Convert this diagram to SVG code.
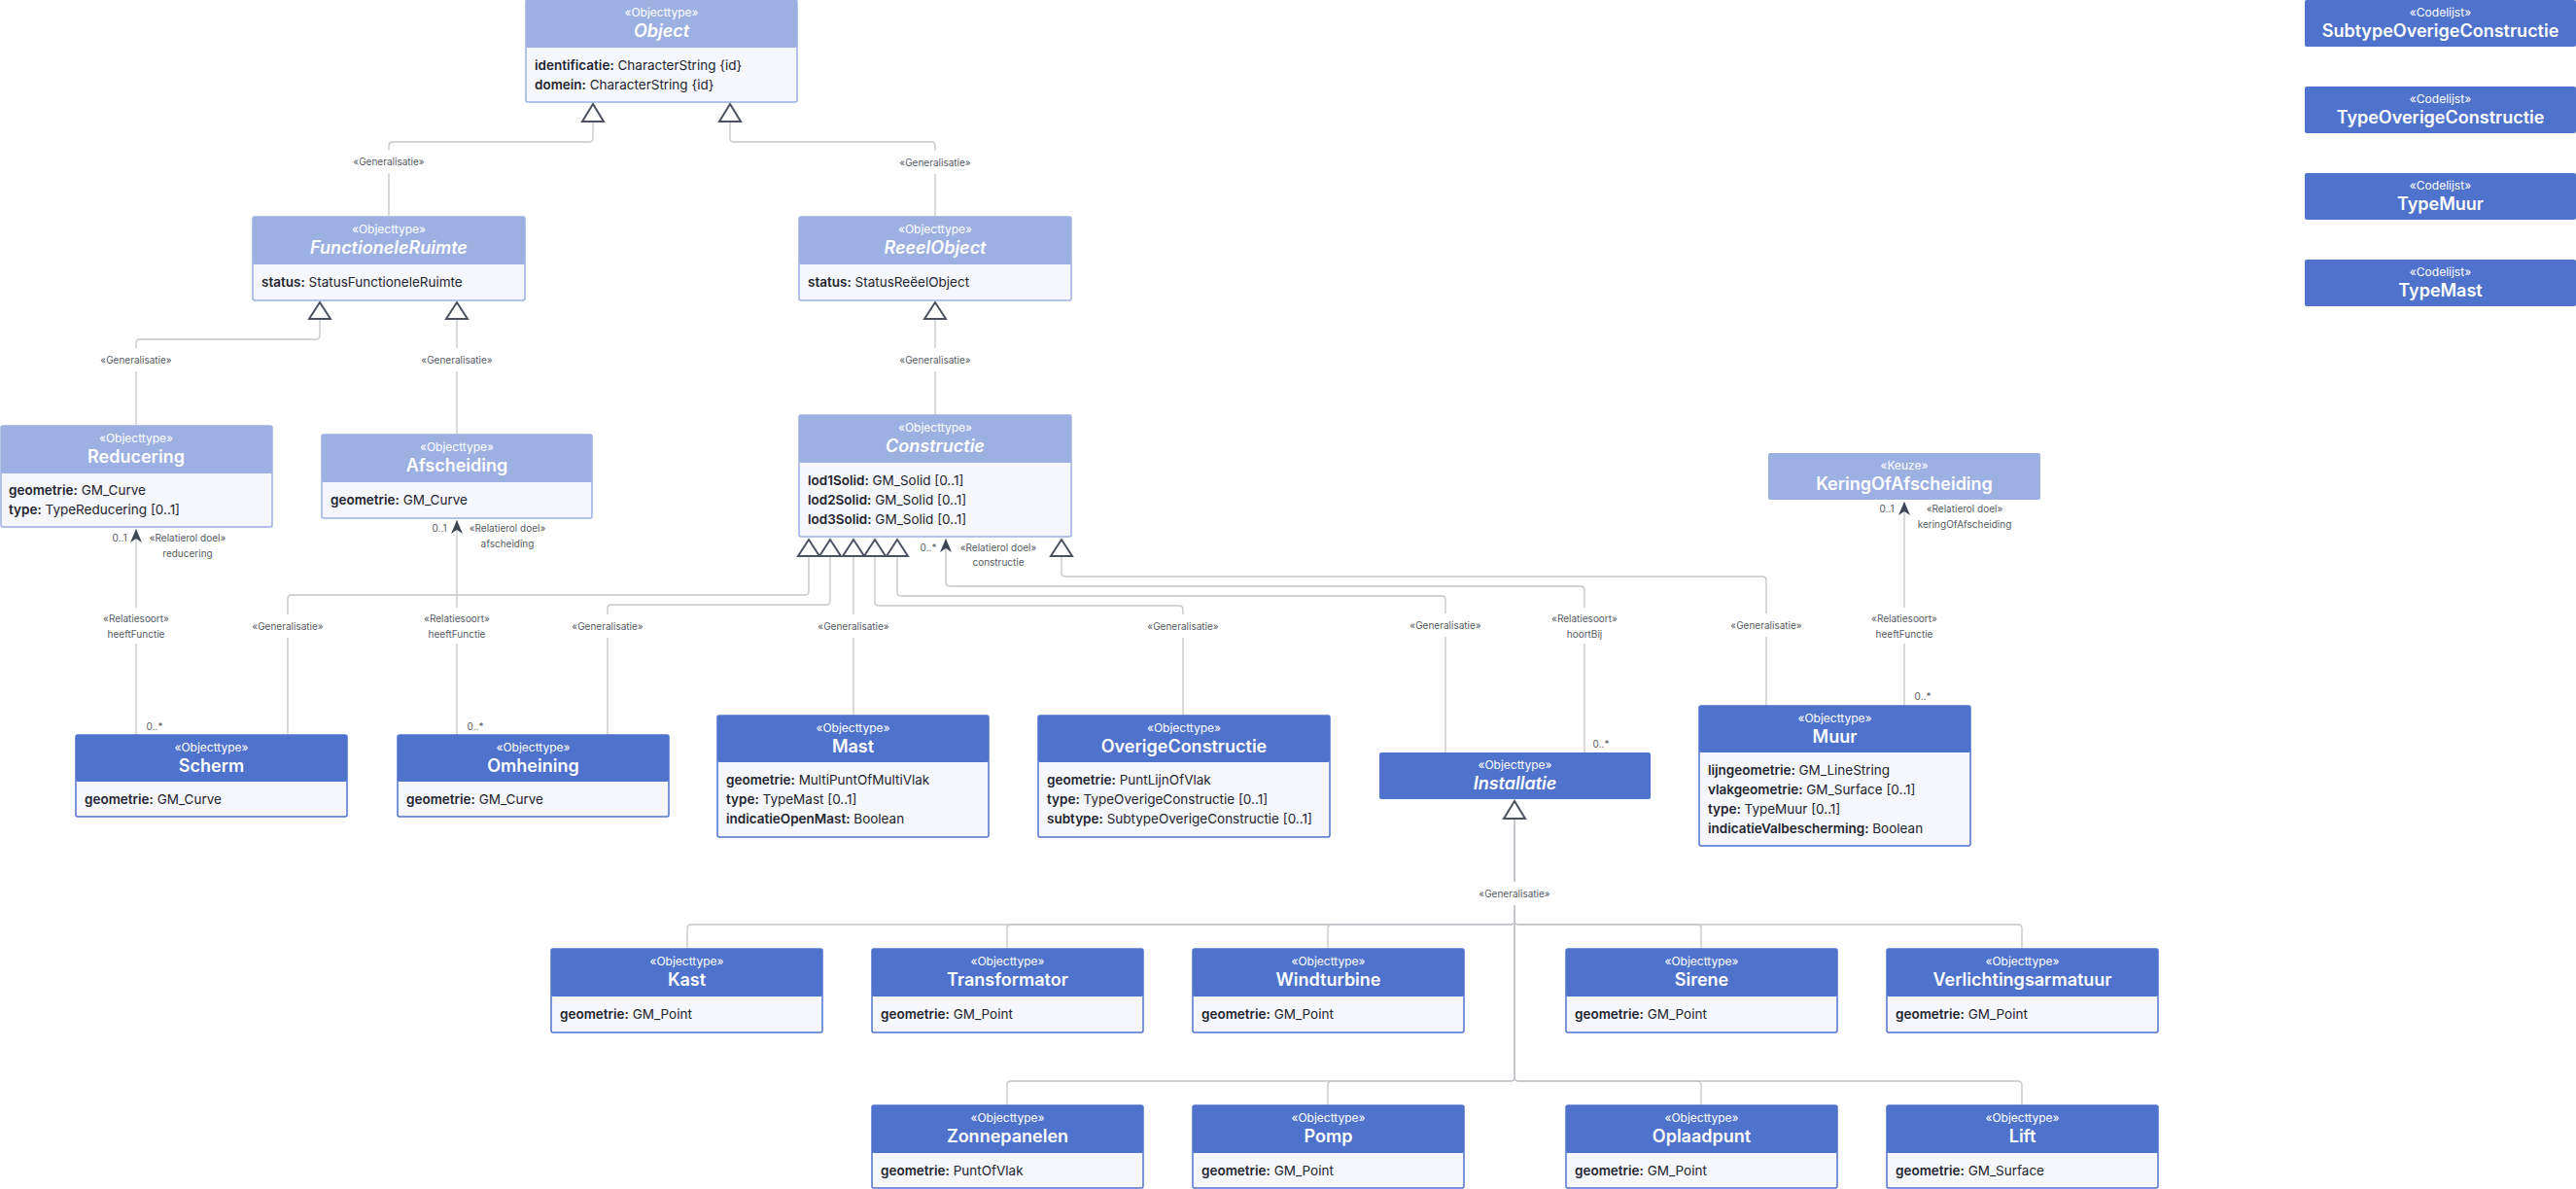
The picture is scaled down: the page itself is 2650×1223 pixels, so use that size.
<svg xmlns="http://www.w3.org/2000/svg" width="2650" height="1223" viewBox="0 0 2650 1223">
<style>
text { font-family: Inter, "Noto Sans", "Liberation Sans", sans-serif; }
.hl { fill: #9DB0E2; }
.hd { fill: #4F73CC; }
.bl { fill: #F5F7FC; stroke: #9DB0E2; stroke-width: 1.5; }
.bd { fill: #F5F7FC; stroke: #4F73CC; stroke-width: 1.5; }
.st { font-size: 12px; fill: #ffffff; text-anchor: middle; }
.tt { font-size: 18px; font-weight: 600; fill: #ffffff; text-anchor: middle; }
.it { font-style: italic; }
.at { font-size: 13.5px; fill: #1f2330; }
.b { font-weight: 600; }
.cn { fill: none; stroke: #C4C6CA; stroke-width: 1.3; }
.tri { fill: #ffffff; stroke: #4A5262; stroke-width: 2; stroke-linejoin: miter; }
.lb { font-size: 10px; fill: #555a63; text-anchor: middle; }
.lbg { fill: #ffffff; }
</style>
<defs>
<marker id="arr" viewBox="0 0 14 12" refX="14" refY="6" markerWidth="14" markerHeight="12" orient="auto" markerUnits="userSpaceOnUse">
<path d="M0,0 L14,6 L0,12 L4,6 Z" fill="#3E4756"/>
</marker>
</defs>

<g id="connectors">
<path class="cn" d="M610,125 V142 Q610,146 606,146 H404 Q400,146 400,150 V223"/>
<path class="cn" d="M751,125 V142 Q751,146 755,146 H958 Q962,146 962,150 V223"/>
<path class="cn" d="M329,328 V345 Q329,349 325,349 H144 Q140,349 140,353 V438"/>
<path class="cn" d="M470,328 V447"/>
<path class="cn" d="M962,328 V427"/>
<path class="cn" d="M832,572 V608 Q832,612 828,612 H300 Q296,612 296,616 V756"/>
<path class="cn" d="M854,572 V618 Q854,622 850,622 H629 Q625,622 625,626 V756"/>
<path class="cn" d="M878,572 V736"/>
<path class="cn" d="M900,572 V619 Q900,623 904,623 H1213 Q1217,623 1217,627 V736"/>
<path class="cn" d="M923,572 V609 Q923,613 927,613 H1483 Q1487,613 1487,617 V774"/>
<path class="cn" d="M1092,572 V589 Q1092,593 1096,593 H1813 Q1817,593 1817,597 V726"/>
<path class="cn" d="M1558,842 V947 Q1558,951 1554,951 H711 Q707,951 707,955 V976"/>
<path class="cn" d="M1558,842 V947 Q1558,951 1554,951 H1040 Q1036,951 1036,955 V976"/>
<path class="cn" d="M1558,842 V947 Q1558,951 1554,951 H1370 Q1366,951 1366,955 V976"/>
<path class="cn" d="M1558,842 V947 Q1558,951 1562,951 H1746 Q1750,951 1750,955 V976"/>
<path class="cn" d="M1558,842 V947 Q1558,951 1562,951 H2076 Q2080,951 2080,955 V976"/>
<path class="cn" d="M1558,842 V1108 Q1558,1112 1554,1112 H1040 Q1036,1112 1036,1116 V1137"/>
<path class="cn" d="M1558,842 V1108 Q1558,1112 1554,1112 H1370 Q1366,1112 1366,1116 V1137"/>
<path class="cn" d="M1558,842 V1108 Q1558,1112 1562,1112 H1746 Q1750,1112 1750,1116 V1137"/>
<path class="cn" d="M1558,842 V1108 Q1558,1112 1562,1112 H2076 Q2080,1112 2080,1116 V1137"/>
<path class="cn" d="M140,756 V544" marker-end="url(#arr)"/>
<path class="cn" d="M470,756 V535" marker-end="url(#arr)"/>
<path class="cn" d="M1630,774 V607 Q1630,603 1626,603 H977 Q973,603 973,599 V554" marker-end="url(#arr)"/>
<path class="cn" d="M1959,726 V516" marker-end="url(#arr)"/>
<polygon class="tri" points="610,107 599,125 621,125"/>
<polygon class="tri" points="751,107 740,125 762,125"/>
<polygon class="tri" points="329,311 318,328 340,328"/>
<polygon class="tri" points="470,311 459,328 481,328"/>
<polygon class="tri" points="962,311 951,328 973,328"/>
<polygon class="tri" points="832,555 821,572 843,572"/>
<polygon class="tri" points="854,555 843,572 865,572"/>
<polygon class="tri" points="878,555 867,572 889,572"/>
<polygon class="tri" points="900,555 889,572 911,572"/>
<polygon class="tri" points="923,555 912,572 934,572"/>
<polygon class="tri" points="1092,555 1081,572 1103,572"/>
<polygon class="tri" points="1558,824 1547,842 1569,842"/>
<rect class="lbg" x="360" y="154" width="80" height="24"/><text class="lb" x="400" y="169.5">«Generalisatie»</text>
<rect class="lbg" x="922" y="155" width="80" height="24"/><text class="lb" x="962" y="170.5">«Generalisatie»</text>
<rect class="lbg" x="100" y="358" width="80" height="24"/><text class="lb" x="140" y="373.5">«Generalisatie»</text>
<rect class="lbg" x="430" y="358" width="80" height="24"/><text class="lb" x="470" y="373.5">«Generalisatie»</text>
<rect class="lbg" x="922" y="358" width="80" height="24"/><text class="lb" x="962" y="373.5">«Generalisatie»</text>
<rect class="lbg" x="256" y="632" width="80" height="24"/><text class="lb" x="296" y="647.5">«Generalisatie»</text>
<rect class="lbg" x="585" y="632" width="80" height="24"/><text class="lb" x="625" y="647.5">«Generalisatie»</text>
<rect class="lbg" x="838" y="632" width="80" height="24"/><text class="lb" x="878" y="647.5">«Generalisatie»</text>
<rect class="lbg" x="1177" y="632" width="80" height="24"/><text class="lb" x="1217" y="647.5">«Generalisatie»</text>
<rect class="lbg" x="1447" y="631" width="80" height="24"/><text class="lb" x="1487" y="646.5">«Generalisatie»</text>
<rect class="lbg" x="1777" y="631" width="80" height="24"/><text class="lb" x="1817" y="646.5">«Generalisatie»</text>
<rect class="lbg" x="1518" y="907" width="80" height="24"/><text class="lb" x="1558" y="922.5">«Generalisatie»</text>
<rect class="lbg" x="104" y="625" width="72" height="37"/><text class="lb" x="140" y="639.5">«Relatiesoort»</text><text class="lb" x="140" y="655.5">heeftFunctie</text>
<text class="lb" x="123" y="556.5">0..1</text><text class="lb" x="193" y="556.5">«Relatierol doel»</text><text class="lb" x="193" y="572.5">reducering</text><text class="lb" x="159" y="750.5">0..*</text>
<rect class="lbg" x="434" y="625" width="72" height="37"/><text class="lb" x="470" y="639.5">«Relatiesoort»</text><text class="lb" x="470" y="655.5">heeftFunctie</text>
<text class="lb" x="452" y="546.5">0..1</text><text class="lb" x="522" y="546.5">«Relatierol doel»</text><text class="lb" x="522" y="562.5">afscheiding</text><text class="lb" x="489" y="750.5">0..*</text>
<rect class="lbg" x="1594" y="625" width="72" height="37"/><text class="lb" x="1630" y="639.5">«Relatiesoort»</text><text class="lb" x="1630" y="655.5">hoortBij</text>
<text class="lb" x="955" y="566.5">0..*</text><text class="lb" x="1027" y="566.5">«Relatierol doel»</text><text class="lb" x="1027" y="581.5">constructie</text><text class="lb" x="1647" y="768.5">0..*</text>
<rect class="lbg" x="1923" y="625" width="72" height="37"/><text class="lb" x="1959" y="639.5">«Relatiesoort»</text><text class="lb" x="1959" y="655.5">heeftFunctie</text>
<text class="lb" x="1941" y="526.5">0..1</text><text class="lb" x="2021" y="526.5">«Relatierol doel»</text><text class="lb" x="2021" y="542.5">keringOfAfscheiding</text><text class="lb" x="1978" y="719.5">0..*</text>
</g>

<g id="Object">
<rect class="bl" x="541" y="0" width="279" height="105" rx="2"/>
<rect class="hl" x="541" y="0" width="279" height="49" rx="2"/>
<text class="st" x="680.5" y="17">«Objecttype»</text>
<text class="tt it" x="680.5" y="38">Object</text>
<text class="at" x="550" y="71.5"><tspan class="b">identificatie:</tspan> CharacterString {id}</text>
<text class="at" x="550" y="91.5"><tspan class="b">domein:</tspan> CharacterString {id}</text>
</g>

<g id="FunctioneleRuimte">
<rect class="bl" x="260" y="223" width="280" height="86" rx="2"/>
<rect class="hl" x="260" y="223" width="280" height="49" rx="2"/>
<text class="st" x="400" y="240">«Objecttype»</text>
<text class="tt it" x="400" y="261">FunctioneleRuimte</text>
<text class="at" x="269" y="294.5"><tspan class="b">status:</tspan> StatusFunctioneleRuimte</text>
</g>

<g id="ReeelObject">
<rect class="bl" x="822" y="223" width="280" height="86" rx="2"/>
<rect class="hl" x="822" y="223" width="280" height="49" rx="2"/>
<text class="st" x="962" y="240">«Objecttype»</text>
<text class="tt it" x="962" y="261">ReeelObject</text>
<text class="at" x="831" y="294.5"><tspan class="b">status:</tspan> StatusReëelObject</text>
</g>

<g id="Constructie">
<rect class="bl" x="822" y="427" width="280" height="125" rx="2"/>
<rect class="hl" x="822" y="427" width="280" height="49" rx="2"/>
<text class="st" x="962" y="444">«Objecttype»</text>
<text class="tt it" x="962" y="465">Constructie</text>
<text class="at" x="831" y="498.5"><tspan class="b">lod1Solid:</tspan> GM_Solid [0..1]</text>
<text class="at" x="831" y="518.5"><tspan class="b">lod2Solid:</tspan> GM_Solid [0..1]</text>
<text class="at" x="831" y="538.5"><tspan class="b">lod3Solid:</tspan> GM_Solid [0..1]</text>
</g>

<g id="Reducering">
<rect class="bl" x="1" y="438" width="279" height="104" rx="2"/>
<rect class="hl" x="1" y="438" width="279" height="49" rx="2"/>
<text class="st" x="140" y="455">«Objecttype»</text>
<text class="tt" x="140" y="476">Reducering</text>
<text class="at" x="9" y="508.5"><tspan class="b">geometrie:</tspan> GM_Curve</text>
<text class="at" x="9" y="528.5"><tspan class="b">type:</tspan> TypeReducering [0..1]</text>
</g>

<g id="Afscheiding">
<rect class="bl" x="331" y="447" width="278" height="86" rx="2"/>
<rect class="hl" x="331" y="447" width="278" height="49" rx="2"/>
<text class="st" x="470" y="464">«Objecttype»</text>
<text class="tt" x="470" y="485">Afscheiding</text>
<text class="at" x="340" y="518.5"><tspan class="b">geometrie:</tspan> GM_Curve</text>
</g>

<g id="KeringOfAfscheiding">
<rect class="hl" x="1819" y="466" width="280" height="48" rx="2"/>
<text class="st" x="1959" y="483">«Keuze»</text>
<text class="tt" x="1959" y="504">KeringOfAfscheiding</text>
</g>

<g id="SubtypeOverigeConstructie">
<rect class="hd" x="2371" y="0" width="279" height="48" rx="2"/>
<text class="st" x="2510.5" y="17">«Codelijst»</text>
<text class="tt" x="2510.5" y="38">SubtypeOverigeConstructie</text>
</g>
<g id="TypeOverigeConstructie">
<rect class="hd" x="2371" y="89" width="279" height="48" rx="2"/>
<text class="st" x="2510.5" y="106">«Codelijst»</text>
<text class="tt" x="2510.5" y="127">TypeOverigeConstructie</text>
</g>
<g id="TypeMuur">
<rect class="hd" x="2371" y="178" width="279" height="48" rx="2"/>
<text class="st" x="2510.5" y="195">«Codelijst»</text>
<text class="tt" x="2510.5" y="216">TypeMuur</text>
</g>
<g id="TypeMast">
<rect class="hd" x="2371" y="267" width="279" height="48" rx="2"/>
<text class="st" x="2510.5" y="284">«Codelijst»</text>
<text class="tt" x="2510.5" y="305">TypeMast</text>
</g>

<g id="Scherm">
<rect class="bd" x="78" y="756" width="279" height="84" rx="2"/>
<rect class="hd" x="78" y="756" width="279" height="48" rx="2"/>
<text class="st" x="217.5" y="773">«Objecttype»</text>
<text class="tt" x="217.5" y="794">Scherm</text>
<text class="at" x="87" y="826.5"><tspan class="b">geometrie:</tspan> GM_Curve</text>
</g>

<g id="Omheining">
<rect class="bd" x="409" y="756" width="279" height="84" rx="2"/>
<rect class="hd" x="409" y="756" width="279" height="48" rx="2"/>
<text class="st" x="548.5" y="773">«Objecttype»</text>
<text class="tt" x="548.5" y="794">Omheining</text>
<text class="at" x="418" y="826.5"><tspan class="b">geometrie:</tspan> GM_Curve</text>
</g>

<g id="Mast">
<rect class="bd" x="738" y="736" width="279" height="125" rx="2"/>
<rect class="hd" x="738" y="736" width="279" height="48" rx="2"/>
<text class="st" x="877.5" y="753">«Objecttype»</text>
<text class="tt" x="877.5" y="774">Mast</text>
<text class="at" x="747" y="806.5"><tspan class="b">geometrie:</tspan> MultiPuntOfMultiVlak</text>
<text class="at" x="747" y="826.5"><tspan class="b">type:</tspan> TypeMast [0..1]</text>
<text class="at" x="747" y="846.5"><tspan class="b">indicatieOpenMast:</tspan> Boolean</text>
</g>

<g id="OverigeConstructie">
<rect class="bd" x="1068" y="736" width="300" height="125" rx="2"/>
<rect class="hd" x="1068" y="736" width="300" height="48" rx="2"/>
<text class="st" x="1218" y="753">«Objecttype»</text>
<text class="tt" x="1218" y="774">OverigeConstructie</text>
<text class="at" x="1077" y="806.5"><tspan class="b">geometrie:</tspan> PuntLijnOfVlak</text>
<text class="at" x="1077" y="826.5"><tspan class="b">type:</tspan> TypeOverigeConstructie [0..1]</text>
<text class="at" x="1077" y="846.5"><tspan class="b">subtype:</tspan> SubtypeOverigeConstructie [0..1]</text>
</g>

<g id="Installatie">
<rect class="hd" x="1419" y="774" width="279" height="48" rx="2"/>
<text class="st" x="1558.5" y="791">«Objecttype»</text>
<text class="tt it" x="1558.5" y="812">Installatie</text>
</g>

<g id="Muur">
<rect class="bd" x="1748" y="726" width="279" height="144" rx="2"/>
<rect class="hd" x="1748" y="726" width="279" height="48" rx="2"/>
<text class="st" x="1887.5" y="743">«Objecttype»</text>
<text class="tt" x="1887.5" y="764">Muur</text>
<text class="at" x="1757" y="796.5"><tspan class="b">lijngeometrie:</tspan> GM_LineString</text>
<text class="at" x="1757" y="816.5"><tspan class="b">vlakgeometrie:</tspan> GM_Surface [0..1]</text>
<text class="at" x="1757" y="836.5"><tspan class="b">type:</tspan> TypeMuur [0..1]</text>
<text class="at" x="1757" y="856.5"><tspan class="b">indicatieValbescherming:</tspan> Boolean</text>
</g>

<g id="Kast">
<rect class="bd" x="567" y="976" width="279" height="86" rx="2"/>
<rect class="hd" x="567" y="976" width="279" height="49" rx="2"/>
<text class="st" x="706.5" y="993">«Objecttype»</text>
<text class="tt" x="706.5" y="1014">Kast</text>
<text class="at" x="576" y="1047.5"><tspan class="b">geometrie:</tspan> GM_Point</text>
</g>
<g id="Transformator">
<rect class="bd" x="897" y="976" width="279" height="86" rx="2"/>
<rect class="hd" x="897" y="976" width="279" height="49" rx="2"/>
<text class="st" x="1036.5" y="993">«Objecttype»</text>
<text class="tt" x="1036.5" y="1014">Transformator</text>
<text class="at" x="906" y="1047.5"><tspan class="b">geometrie:</tspan> GM_Point</text>
</g>
<g id="Windturbine">
<rect class="bd" x="1227" y="976" width="279" height="86" rx="2"/>
<rect class="hd" x="1227" y="976" width="279" height="49" rx="2"/>
<text class="st" x="1366.5" y="993">«Objecttype»</text>
<text class="tt" x="1366.5" y="1014">Windturbine</text>
<text class="at" x="1236" y="1047.5"><tspan class="b">geometrie:</tspan> GM_Point</text>
</g>
<g id="Sirene">
<rect class="bd" x="1611" y="976" width="279" height="86" rx="2"/>
<rect class="hd" x="1611" y="976" width="279" height="49" rx="2"/>
<text class="st" x="1750.5" y="993">«Objecttype»</text>
<text class="tt" x="1750.5" y="1014">Sirene</text>
<text class="at" x="1620" y="1047.5"><tspan class="b">geometrie:</tspan> GM_Point</text>
</g>
<g id="Verlichtingsarmatuur">
<rect class="bd" x="1941" y="976" width="279" height="86" rx="2"/>
<rect class="hd" x="1941" y="976" width="279" height="49" rx="2"/>
<text class="st" x="2080.5" y="993">«Objecttype»</text>
<text class="tt" x="2080.5" y="1014">Verlichtingsarmatuur</text>
<text class="at" x="1950" y="1047.5"><tspan class="b">geometrie:</tspan> GM_Point</text>
</g>

<g id="Zonnepanelen">
<rect class="bd" x="897" y="1137" width="279" height="85" rx="2"/>
<rect class="hd" x="897" y="1137" width="279" height="49" rx="2"/>
<text class="st" x="1036.5" y="1154">«Objecttype»</text>
<text class="tt" x="1036.5" y="1175">Zonnepanelen</text>
<text class="at" x="906" y="1208.5"><tspan class="b">geometrie:</tspan> PuntOfVlak</text>
</g>
<g id="Pomp">
<rect class="bd" x="1227" y="1137" width="279" height="85" rx="2"/>
<rect class="hd" x="1227" y="1137" width="279" height="49" rx="2"/>
<text class="st" x="1366.5" y="1154">«Objecttype»</text>
<text class="tt" x="1366.5" y="1175">Pomp</text>
<text class="at" x="1236" y="1208.5"><tspan class="b">geometrie:</tspan> GM_Point</text>
</g>
<g id="Oplaadpunt">
<rect class="bd" x="1611" y="1137" width="279" height="85" rx="2"/>
<rect class="hd" x="1611" y="1137" width="279" height="49" rx="2"/>
<text class="st" x="1750.5" y="1154">«Objecttype»</text>
<text class="tt" x="1750.5" y="1175">Oplaadpunt</text>
<text class="at" x="1620" y="1208.5"><tspan class="b">geometrie:</tspan> GM_Point</text>
</g>
<g id="Lift">
<rect class="bd" x="1941" y="1137" width="279" height="85" rx="2"/>
<rect class="hd" x="1941" y="1137" width="279" height="49" rx="2"/>
<text class="st" x="2080.5" y="1154">«Objecttype»</text>
<text class="tt" x="2080.5" y="1175">Lift</text>
<text class="at" x="1950" y="1208.5"><tspan class="b">geometrie:</tspan> GM_Surface</text>
</g>
</svg>
